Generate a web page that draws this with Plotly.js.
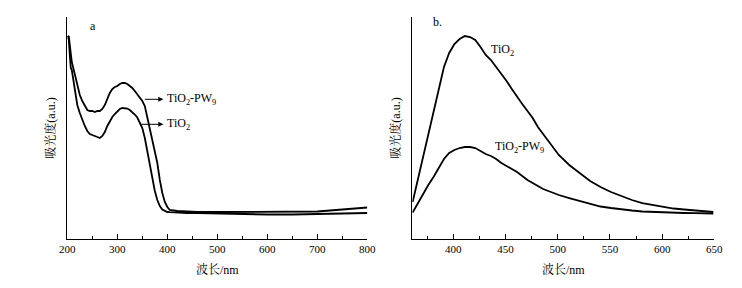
<!DOCTYPE html>
<html>
<head>
<meta charset="utf-8">
<script src="https://cdn.plot.ly/plotly-3.0.1.min.js"></script>
<style>html,body{margin:0;padding:0;background:#fff;}#chart{width:742px;height:288px;}</style>
</head>
<body>
<div id="chart"></div>
<script>
// Panel a: UV-vis absorption (arbitrary units)
const aWavelength = [201,203,205,207,209,211,215,220,225,230,235,240,245,250,255,260,265,270,275,280,285,290,295,300,305,310,315,320,325,330,335,340,345,350,355,360,365,370,375,380,385,390,395,400,405,410,420,440,460,500,550,600,650,700,750,800];
const aTiO2PW9 = [202,203,194,181,177,173,164,152,144,138,133,129,128,128,127,128,128,130,134,140,146,150,152,153,155,156,156,155,153,151,148,145,142,138,133,122,112,99,87,76,59,46,37,32,29,28.5,28,27.5,27,27,27,27,27,27.5,29.5,31.5];
const aTiO2 =    [203,199,184,171,169,163,149,134,126,119,113,108,105,104,103,102,101,103,107,113,118,122,125,128,130,131,131,130.5,129,127,124.5,121.5,117,111,101,88,76,61,48,39,33,29.5,28,27,26.8,26.6,26.5,26,26,25.5,25,24.5,24.5,25,25.5,26];

// Panel b: emission spectra (arbitrary units)
const bWavelength = [361,366,371,376,381,386,391,396,401,406,411,416,421,426,431,436,441,446,451,456,461,466,471,476,481,486,491,496,501,511,521,531,541,551,561,571,581,591,601,611,621,631,641,649];
const bTiO2 =    [37,60,82,106,129,152,172,186,195,200,203,202,199,192,184,179,172,166,158,150,142,135,128,121,112,105,98,91,84,74,66,58,52,47,43,39,36,34,32,30.5,29.5,28.5,27.5,27];
const bTiO2PW9 = [26.5,36,45,54,62,71,80,86,89,91,92,92,91,88,85,83,80,76,73,70,67,63,59,56,53,50,48,46,44,41,38,35,32.5,31,29.5,28.5,27.5,27,26.5,26.3,26,25.8,25.6,25.5];

// Tick labels / texts
const xTitle = '波长/nm';
const yTitle = '吸光度(a.u.)';
const labelTiO2 = 'TiO<sub>2</sub>';
const labelPW9 = 'TiO<sub>2</sub>-PW<sub>9</sub>';

const FONT = 'Liberation Serif, Noto Serif CJK SC, Noto Sans CJK SC, serif';
const lineStyle = {color: '#000', width: 1.8};

const traces = [
  {x: aWavelength, y: aTiO2PW9, xaxis: 'x', yaxis: 'y', mode: 'lines', line: lineStyle, name: 'TiO2-PW9'},
  {x: aWavelength, y: aTiO2, xaxis: 'x', yaxis: 'y', mode: 'lines', line: lineStyle, name: 'TiO2'},
  {x: bWavelength, y: bTiO2, xaxis: 'x2', yaxis: 'y2', mode: 'lines', line: lineStyle, name: 'TiO2'},
  {x: bWavelength, y: bTiO2PW9, xaxis: 'x2', yaxis: 'y2', mode: 'lines', line: lineStyle, name: 'TiO2-PW9'}
];

function xAxis(domain, range, dtick, anchor) {
  return {
    domain: domain, range: range, anchor: anchor,
    showline: true, linecolor: '#000', linewidth: 1,
    ticks: 'inside', ticklen: 5, tickcolor: '#000', tickwidth: 1, dtick: dtick, tick0: 0,
    minor: {ticks: 'inside', ticklen: 3, tickcolor: '#000', dtick: dtick / 2},
    showgrid: false, zeroline: false,
    tickfont: {family: FONT, size: 11, color: '#000'},
    title: {text: xTitle, font: {family: FONT, size: 12, color: '#000'}, standoff: 11}
  };
}
function yAxis(domain, anchor) {
  return {
    domain: domain, range: [0, 222], anchor: anchor,
    showline: true, linecolor: '#000', linewidth: 1,
    tickvals: [222], ticks: 'inside', ticklen: 6, tickcolor: '#000',
    showticklabels: false, showgrid: false, zeroline: false,
    title: {text: yTitle, font: {family: FONT, size: 12, color: '#000'}, standoff: 8}
  };
}

const yDom = [0.1701, 0.941];
const layout = {
  width: 742, height: 288,
  margin: {l: 0, r: 0, t: 0, b: 0},
  paper_bgcolor: '#fff', plot_bgcolor: '#fff',
  showlegend: false,
  font: {family: FONT, color: '#000', size: 12},
  xaxis: xAxis([0.0907, 0.4951], [200, 800], 100, 'y'),
  yaxis: yAxis(yDom, 'x'),
  xaxis2: xAxis([0.5557, 0.9627], [360.7, 650], 50, 'y2'),
  yaxis2: yAxis(yDom, 'x2'),
  annotations: [
    {text: 'a', xref: 'paper', yref: 'paper', x: 88/742, y: 1 - 26/288, xanchor: 'left', yanchor: 'middle', showarrow: false, font: {family: FONT, size: 12, color: '#000'}},
    {text: 'b.', xref: 'paper', yref: 'paper', x: 431/742, y: 1 - 22/288, xanchor: 'left', yanchor: 'middle', showarrow: false, font: {family: FONT, size: 12, color: '#000'}},
    // arrows in panel a
    {text: '', xref: 'x', yref: 'y', x: 392, y: 139.7, axref: 'x', ayref: 'y', ax: 352, ay: 139.7, showarrow: true, arrowhead: 2, arrowsize: 1, arrowwidth: 1, arrowcolor: '#000'},
    {text: '', xref: 'x', yref: 'y', x: 392, y: 114.7, axref: 'x', ayref: 'y', ax: 345, ay: 114.7, showarrow: true, arrowhead: 2, arrowsize: 1, arrowwidth: 1, arrowcolor: '#000'},
    {text: labelPW9, xref: 'x', yref: 'y', x: 396, y: 140, xanchor: 'left', yanchor: 'middle', showarrow: false, font: {family: FONT, size: 12, color: '#000'}},
    {text: labelTiO2, xref: 'x', yref: 'y', x: 396, y: 115, xanchor: 'left', yanchor: 'middle', showarrow: false, font: {family: FONT, size: 12, color: '#000'}},
    // labels in panel b
    {text: labelTiO2, xref: 'x2', yref: 'y2', x: 434, y: 189, xanchor: 'left', yanchor: 'middle', showarrow: false, font: {family: FONT, size: 12, color: '#000'}},
    {text: labelPW9, xref: 'x2', yref: 'y2', x: 438, y: 92, xanchor: 'left', yanchor: 'middle', showarrow: false, font: {family: FONT, size: 12, color: '#000'}}
  ]
};

Plotly.newPlot('chart', traces, layout, {displayModeBar: false, staticPlot: true});
</script>
</body>
</html>
